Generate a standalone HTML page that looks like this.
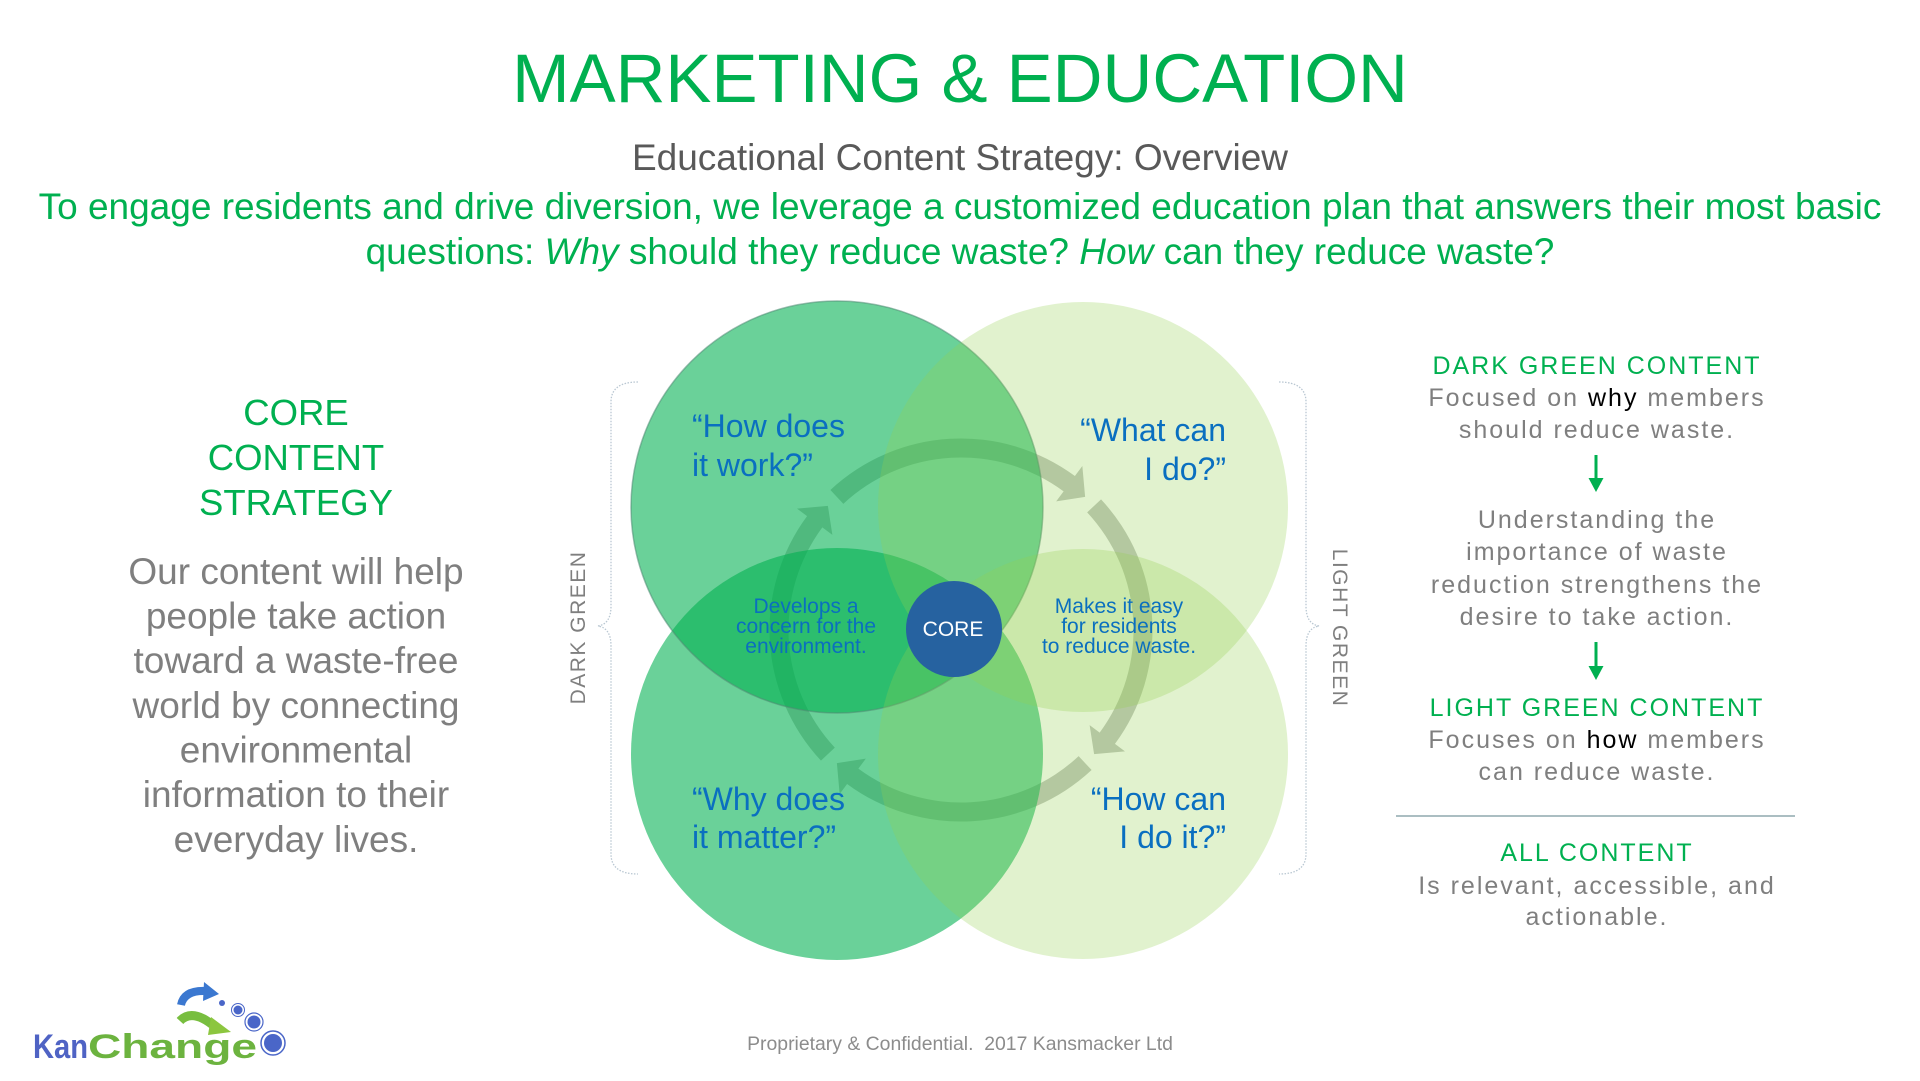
<!DOCTYPE html>
<html>
<head>
<meta charset="utf-8">
<style>
  html, body { margin:0; padding:0; background:#ffffff; }
  body { width:1920px; height:1081px; overflow:hidden; }
  svg { display:block; }
  text { font-family: "Liberation Sans", Arial, sans-serif; }
</style>
</head>
<body>
<svg width="1920" height="1081" viewBox="0 0 1920 1081" xmlns="http://www.w3.org/2000/svg">
  <rect x="0" y="0" width="1920" height="1081" fill="#ffffff"/>

  <!-- Header -->
  <text x="960" y="102" text-anchor="middle" font-size="69" fill="#00B050">MARKETING &amp; EDUCATION</text>
  <text x="960" y="170" text-anchor="middle" font-size="37" fill="#595959">Educational Content Strategy: Overview</text>
  <text x="960" y="219" text-anchor="middle" font-size="37" fill="#00B050">To engage residents and drive diversion, we leverage a customized education plan that answers their most basic</text>
  <text x="960" y="264" text-anchor="middle" font-size="37" fill="#00B050">questions: <tspan font-style="italic">Why</tspan> should they reduce waste? <tspan font-style="italic">How</tspan> can they reduce waste?</text>

  <!-- Left column -->
  <g text-anchor="middle" fill="#00B050" font-size="36.5">
    <text x="296" y="425">CORE</text>
    <text x="296" y="470">CONTENT</text>
    <text x="296" y="515">STRATEGY</text>
  </g>
  <g text-anchor="middle" fill="#7f7f7f" font-size="37">
    <text x="296" y="584">Our content will help</text>
    <text x="296" y="628.5">people take action</text>
    <text x="296" y="673">toward a waste-free</text>
    <text x="296" y="718">world by connecting</text>
    <text x="296" y="762.5">environmental</text>
    <text x="296" y="807">information to their</text>
    <text x="296" y="852">everyday lives.</text>
  </g>

  <!-- Braces -->
  <path d="M638,382 Q611,382 611,402 L611,606 Q611,624 598,626 Q611,628 611,646 L611,854 Q611,874 638,874"
        fill="none" stroke="#b9c7d2" stroke-width="1.3" stroke-dasharray="1.5 1.5"/>
  <path d="M1279,382 Q1306,382 1306,402 L1306,606 Q1306,624 1319,626 Q1306,628 1306,646 L1306,854 Q1306,874 1279,874"
        fill="none" stroke="#b9c7d2" stroke-width="1.3" stroke-dasharray="1.5 1.5"/>
  <text transform="translate(585,627.5) rotate(-90)" text-anchor="middle" font-size="21" fill="#7f7f7f" style="letter-spacing:1.5px">DARK GREEN</text>
  <text transform="translate(1333,628) rotate(90)" text-anchor="middle" font-size="21" fill="#7f7f7f" style="letter-spacing:1.5px">LIGHT GREEN</text>

  <!-- Circular arrows ring (beneath circles) -->
  <g fill="#c1c5bf">
    <path id="arw" d="M830.40,489.95 A191.5,191.5 0 0 1 1074.91,476.06 L1082.34,466.01 L1085.12,496.89 L1056.17,501.38 L1063.61,491.33 A172.5,172.5 0 0 0 843.36,503.84 Z"/>
    <use href="#arw" transform="rotate(90 961 630)"/>
    <use href="#arw" transform="rotate(180 961 630)"/>
    <use href="#arw" transform="rotate(270 961 630)"/>
  </g>

  <!-- Dark circles -->
  <circle cx="837" cy="507" r="206" fill="#00B050" fill-opacity="0.585"/>
  <circle cx="837" cy="754" r="206" fill="#00B050" fill-opacity="0.585"/>
  <circle cx="837" cy="507" r="206" fill="none" stroke="#4f8a72" stroke-opacity="0.55" stroke-width="1.5"/>
  <!-- Light circles -->
  <circle cx="1083" cy="507" r="205" fill="#92D050" fill-opacity="0.28"/>
  <circle cx="1083" cy="754" r="205" fill="#92D050" fill-opacity="0.28"/>

  <!-- Core -->
  <circle cx="954" cy="629" r="48" fill="#2662a0"/>
  <text x="953" y="636" text-anchor="middle" font-size="21" fill="#ffffff">CORE</text>

  <!-- Venn labels -->
  <g font-size="32" fill="#0a6fc0">
    <text x="692" y="437">“How does</text>
    <text x="692" y="476">it work?”</text>
    <text x="1226" y="441" text-anchor="end">“What can</text>
    <text x="1226" y="480" text-anchor="end">I do?”</text>
    <text x="692" y="810">“Why does</text>
    <text x="692" y="848">it matter?”</text>
    <text x="1226" y="810" text-anchor="end">“How can</text>
    <text x="1226" y="848" text-anchor="end">I do it?”</text>
  </g>
  <g font-size="21" fill="#0a6fbf" text-anchor="middle">
    <text x="806" y="613">Develops a</text>
    <text x="806" y="633">concern for the</text>
    <text x="806" y="653">environment.</text>
    <text x="1119" y="613">Makes it easy</text>
    <text x="1119" y="633">for residents</text>
    <text x="1119" y="653">to reduce waste.</text>
  </g>

  <!-- Right column -->
  <g text-anchor="middle" font-size="25" fill="#7f7f7f" style="letter-spacing:2px">
    <text x="1597" y="374" fill="#00B050">DARK GREEN CONTENT</text>
    <text x="1597" y="406">Focused on <tspan fill="#000000">why</tspan> members</text>
    <text x="1597" y="438">should reduce waste.</text>
    <text x="1597" y="528">Understanding the</text>
    <text x="1597" y="560">importance of waste</text>
    <text x="1597" y="593">reduction strengthens the</text>
    <text x="1597" y="625">desire to take action.</text>
    <text x="1597" y="716" fill="#00B050">LIGHT GREEN CONTENT</text>
    <text x="1597" y="748">Focuses on <tspan fill="#000000">how</tspan> members</text>
    <text x="1597" y="780">can reduce waste.</text>
    <text x="1597" y="861" fill="#00B050">ALL CONTENT</text>
    <text x="1597" y="894">Is relevant, accessible, and</text>
    <text x="1597" y="925">actionable.</text>
  </g>
  <!-- down arrows -->
  <g fill="#00B050">
    <rect x="1594.5" y="455" width="3" height="25"/>
    <polygon points="1588.5,478 1603.5,478 1596,492"/>
    <rect x="1594.5" y="642" width="3" height="26"/>
    <polygon points="1588.5,666 1603.5,666 1596,680"/>
  </g>
  <line x1="1396" y1="816" x2="1795" y2="816" stroke="#8fa9ad" stroke-width="1.5"/>

  <!-- Footer -->
  <text x="960" y="1050" text-anchor="middle" font-size="19.4" fill="#8c8c8c" xml:space="preserve">Proprietary &amp; Confidential.  2017 Kansmacker Ltd</text>

  <!-- Logo -->
  <g>
    <path d="M181,1005 Q184,990 206,991" fill="none" stroke="#3b78d0" stroke-width="8" stroke-linecap="butt"/>
    <polygon points="204,982 219,994 203,1001" fill="#3b78d0"/>
    <path d="M180,1021 Q192,1008 214,1026" fill="none" stroke="#78be3f" stroke-width="9"/>
    <polygon points="211,1017 231,1032 208,1035" fill="#8cc63f"/>
    <circle cx="222" cy="1003" r="3" fill="#4a66c8"/>
    <circle cx="238" cy="1010" r="4.5" fill="#4a66c8"/>
    <circle cx="238" cy="1010" r="6.5" fill="none" stroke="#4a66c8" stroke-width="1"/>
    <circle cx="254" cy="1022" r="6.5" fill="#4a66c8"/>
    <circle cx="254" cy="1022" r="9" fill="none" stroke="#4a66c8" stroke-width="1.2"/>
    <circle cx="273" cy="1043" r="9" fill="#4a66c8"/>
    <circle cx="273" cy="1043" r="12" fill="none" stroke="#4a66c8" stroke-width="1.5"/>
    <text x="33" y="1058" font-size="34" font-weight="bold" fill="#4f63c4" textLength="55" lengthAdjust="spacingAndGlyphs">Kan</text>
    <text x="88" y="1058" font-size="34" font-weight="bold" fill="#6cb33f" textLength="169" lengthAdjust="spacingAndGlyphs">Change</text>
  </g>
</svg>
</body>
</html>
